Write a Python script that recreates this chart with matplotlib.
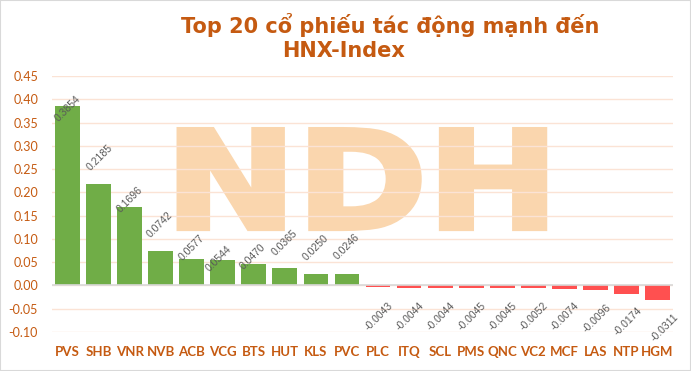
"""Top 20 HNX-Index movers: bar chart of point contribution per ticker."""
import numpy as np
import matplotlib
matplotlib.use("Agg")
import matplotlib.pyplot as plt
from matplotlib.font_manager import FontProperties
from matplotlib.patches import PathPatch, Rectangle
from matplotlib.textpath import TextPath
from matplotlib.transforms import Affine2D

plt.rcParams["font.family"] = ["Lato", "DejaVu Sans"]

TICKERS = ["PVS", "SHB", "VNR", "NVB", "ACB", "VCG", "BTS", "HUT", "KLS", "PVC",
           "PLC", "ITQ", "SCL", "PMS", "QNC", "VC2", "MCF", "LAS", "NTP", "HGM"]
IMPACT = [0.3854, 0.2185, 0.1696, 0.0742, 0.0577, 0.0544, 0.0470, 0.0365, 0.0250, 0.0246,
          -0.0043, -0.0044, -0.0044, -0.0045, -0.0045, -0.0052, -0.0074, -0.0096, -0.0174, -0.0311]
YTICKS = [-0.10, -0.05, 0.00, 0.05, 0.10, 0.15, 0.20, 0.25, 0.30, 0.35, 0.40, 0.45]
TITLE_1 = "Top 20 cổ phiếu tác động mạnh đến"
TITLE_2 = "HNX-Index"

# label offsets (px) from the bar end, as placed in the original chart
LABEL_DY = [-3, 26, 7, 26, 11, 1, 7, 26, 26, 27,
            29, 29, 29, 29, 29, 29, 28, 28, 28, 28]
LABEL_DX = [0, 1, 0, -1, 0, -4, -1, 0, 0, 0,
            1, 1, 1, 1, 1, 1, 1, 1, 1, 7]

ORANGE = "#C55A11"
GREEN = "#70AD47"
RED = "#FF5050"
WATERMARK = "#FAD6AE"

fig = plt.figure(figsize=(6.91, 3.71), dpi=100)
ax = fig.add_axes([52 / 691, 1 - 332 / 371, 621 / 691, 256 / 371])

x = np.arange(len(TICKERS))
vals = np.array(IMPACT)
colors = [GREEN if v >= 0 else RED for v in vals]
ax.bar(x, vals, width=0.8, color=colors, zorder=2)

ax.set_xlim(-0.5, len(TICKERS) - 0.5)
ax.set_ylim(-0.10, 0.45)
ax.set_yticks(YTICKS)
ax.set_yticklabels([f"{t:.2f}" for t in YTICKS])
ax.set_xticks(x)
ax.set_xticklabels(TICKERS, fontweight="bold")
ax.tick_params(axis="both", length=0, colors=ORANGE)
ax.tick_params(axis="y", labelsize=9, pad=10)
ax.tick_params(axis="x", labelsize=9.5, pad=10)
ax.grid(axis="y", color="#FBE3D5", lw=1)
ax.set_axisbelow(True)
for s in ax.spines.values():
    s.set_visible(False)
ax.axhline(0, color="#D9D9D9", lw=1.2, zorder=3)

# faint NDH watermark behind the grid, stretched into its box (axes fraction)
tp = TextPath((0, 0), "NDH", size=100,
              prop=FontProperties(family="DejaVu Sans", weight="bold"))
ext = tp.get_extents()
x0, x1, y0, y1 = 0.205, 0.793, 0.405, 0.790
fit = (Affine2D().translate(-ext.x0, -ext.y0)
       .scale((x1 - x0) / ext.width, (y1 - y0) / ext.height)
       .translate(x0, y0))
ax.add_patch(PathPatch(fit.transform_path(tp), transform=ax.transAxes,
                       facecolor=WATERMARK, edgecolor=WATERMARK, lw=4,
                       zorder=0.1))

for i, v in enumerate(vals):
    sgn = 1 if v >= 0 else -1
    ax.annotate(f"{v:.4f}", (x[i], v), xytext=(LABEL_DX[i] * 0.72, sgn * LABEL_DY[i] * 0.72),
                textcoords="offset points", ha="center", va="center", rotation=45,
                fontsize=7.5, color="#595959", family="Liberation Sans", zorder=4)

fig.text(390.5 / 691, 1 - 33 / 371, TITLE_1, ha="center", va="baseline",
         fontsize=15, fontweight="bold", color=ORANGE, family="DejaVu Sans")
fig.text(343.5 / 691, 1 - 57 / 371, TITLE_2, ha="center", va="baseline",
         fontsize=15, fontweight="bold", color=ORANGE, family="DejaVu Sans")

fig.patches.append(Rectangle((0, 0), 1, 1, transform=fig.transFigure, fill=False,
                             edgecolor="#D9D9D9", lw=1.5))

fig.savefig("out.png", dpi=100)
